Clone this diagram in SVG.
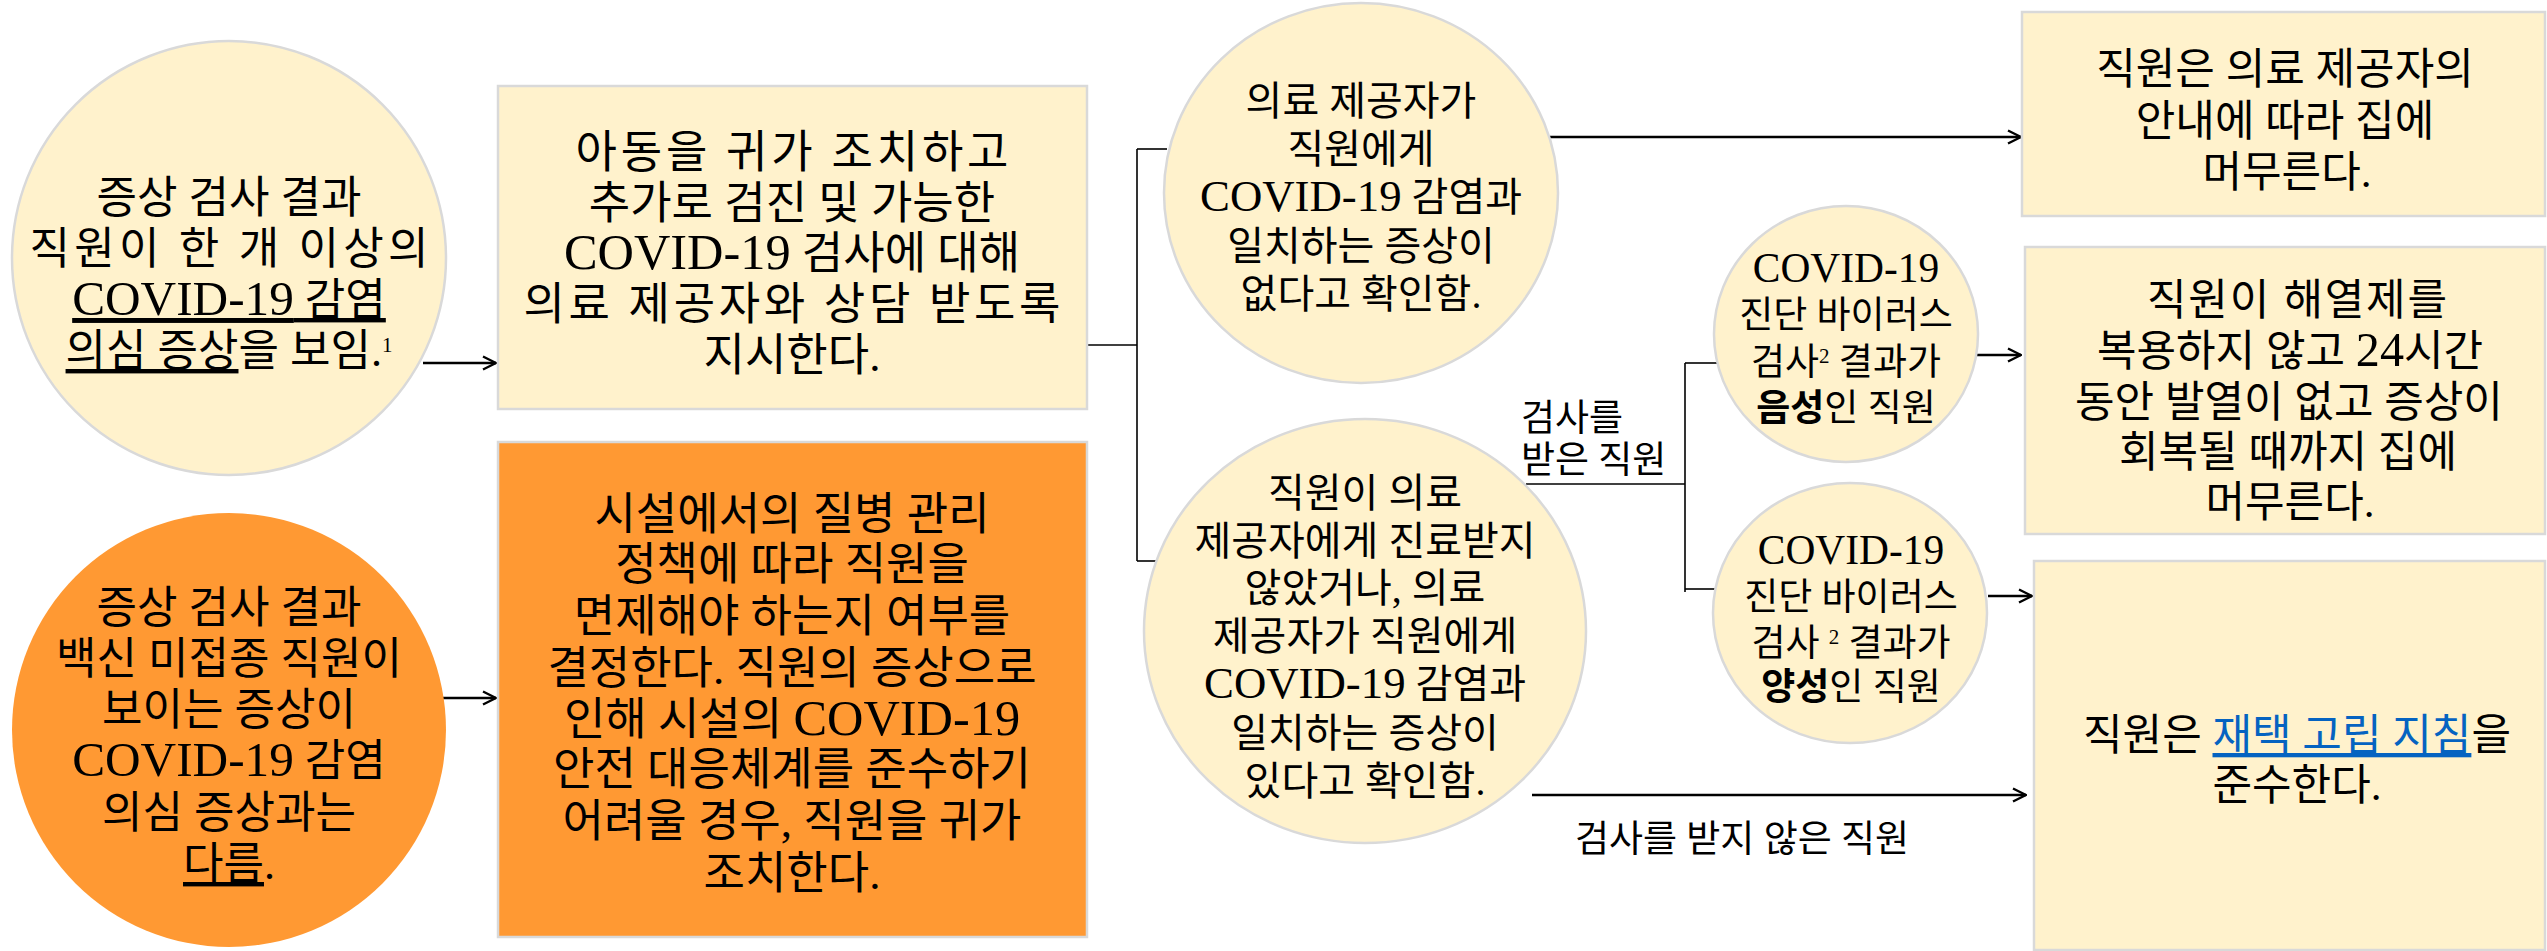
<svg xmlns="http://www.w3.org/2000/svg" width="2547" height="951" viewBox="0 0 2547 951">
<defs>
<style>
.t{font-family:"Liberation Serif","Noto Sans CJK KR",serif;fill:#000;text-anchor:middle}
.l{text-anchor:start}
.s44{font-size:44px}.s45{font-size:45px}.s40{font-size:40px}.s37{font-size:37px}.s43{font-size:43px}
.lat{font-size:112%}
.u{text-decoration:underline}
.b{font-weight:bold}
.sup{font-size:21px}
.link{fill:#0563C1;text-decoration:underline}
.nl{fill:#FFF2CC;stroke:#D9D9D9;stroke-width:2.5}
.no{fill:#FF9933}
.nor{fill:#FF9933;stroke:#D9D9D9;stroke-width:2.5}
.c line{stroke:#000;fill:none}
.thin{stroke-width:1.6}
.thick{stroke-width:2.6}
</style>
<marker id="ah" viewBox="0 0 16 16" refX="15" refY="8" markerWidth="16" markerHeight="16" markerUnits="userSpaceOnUse" orient="auto">
<path d="M2,1.5 L15,8 L2,14.5" fill="none" stroke="#000" stroke-width="2.4"/>
</marker>
</defs>
<rect width="2547" height="951" fill="#FFFFFF"/>

<g id="connectors" class="c">
<line class="thick" x1="423" y1="363" x2="496" y2="363" marker-end="url(#ah)"/>
<line class="thick" x1="443" y1="698" x2="496" y2="698" marker-end="url(#ah)"/>
<line class="thin" x1="1087" y1="345" x2="1137" y2="345"/>
<line class="thin" x1="1137" y1="149" x2="1137" y2="561"/>
<line class="thin" x1="1137" y1="149" x2="1167" y2="149"/>
<line class="thin" x1="1137" y1="561" x2="1157" y2="561"/>
<line class="thick" x1="1550" y1="137" x2="2021" y2="137" marker-end="url(#ah)"/>
<line class="thin" x1="1526" y1="484" x2="1685" y2="484"/>
<line class="thin" x1="1685" y1="363" x2="1685" y2="592"/>
<line class="thin" x1="1685" y1="363" x2="1717" y2="363"/>
<line class="thin" x1="1685" y1="589" x2="1715" y2="589"/>
<line class="thick" x1="1977" y1="355" x2="2021" y2="355" marker-end="url(#ah)"/>
<line class="thick" x1="1988" y1="596" x2="2032" y2="596" marker-end="url(#ah)"/>
<line class="thick" x1="1532" y1="795" x2="2026" y2="795" marker-end="url(#ah)"/>
</g>

<g id="labels">
<text class="t s37 l" x="1521" y="431">검사를</text>
<text class="t s37 l" x="1521" y="473">받은 직원</text>
<text class="t s37" x="1742" y="852">검사를 받지 않은 직원</text>
</g>

<g id="n1">
<circle class="nl" cx="229" cy="258" r="217"/>
<text class="t s44" x="229" y="213">증상 검사 결과</text>
<text class="t s44" x="229" y="264" textLength="399" lengthAdjust="spacing">직원이 한 개 이상의</text>
<text class="t s44" x="229" y="315"><tspan class="u"><tspan class="lat">COVID-19</tspan> 감염</tspan></text>
<text class="t s44" x="229" y="366"><tspan class="u">의심 증상</tspan>을 보임.<tspan class="sup" dy="-14">1</tspan></text>
</g>

<g id="n2">
<circle class="no" cx="229" cy="730" r="217"/>
<text class="t s44" x="229" y="623">증상 검사 결과</text>
<text class="t s44" x="229" y="674">백신 미접종 직원이</text>
<text class="t s44" x="229" y="725">보이는 증상이</text>
<text class="t s44" x="229" y="776"><tspan class="lat">COVID-19</tspan> 감염</text>
<text class="t s44" x="229" y="828">의심 증상과는</text>
<text class="t s44" x="229" y="879"><tspan class="u">다름</tspan>.</text>
</g>

<g id="n3">
<rect class="nl" x="498" y="86" width="589" height="323"/>
<text class="t s45" x="792" y="168" textLength="433" lengthAdjust="spacing">아동을 귀가 조치하고</text>
<text class="t s45" x="792" y="219">추가로 검진 및 가능한</text>
<text class="t s45" x="792" y="269"><tspan class="lat">COVID-19</tspan> 검사에 대해</text>
<text class="t s45" x="792" y="320" textLength="537" lengthAdjust="spacing">의료 제공자와 상담 받도록</text>
<text class="t s45" x="792" y="371">지시한다.</text>
</g>

<g id="n4">
<rect class="nor" x="498" y="442" width="589" height="495"/>
<text class="t s45" x="792" y="530">시설에서의 질병 관리</text>
<text class="t s45" x="792" y="580">정책에 따라 직원을</text>
<text class="t s45" x="792" y="632">면제해야 하는지 여부를</text>
<text class="t s45" x="792" y="684">결정한다. 직원의 증상으로</text>
<text class="t s45" x="792" y="735">인해 시설의 <tspan class="lat">COVID-19</tspan></text>
<text class="t s45" x="792" y="785">안전 대응체계를 준수하기</text>
<text class="t s45" x="792" y="837">어려울 경우, 직원을 귀가</text>
<text class="t s45" x="792" y="889">조치한다.</text>
</g>

<g id="n5">
<ellipse class="nl" cx="1361" cy="193" rx="197" ry="190"/>
<text class="t s40" x="1361" y="115">의료 제공자가</text>
<text class="t s40" x="1361" y="163">직원에게</text>
<text class="t s40" x="1361" y="211"><tspan class="lat">COVID-19</tspan> 감염과</text>
<text class="t s40" x="1361" y="260">일치하는 증상이</text>
<text class="t s40" x="1361" y="308">없다고 확인함.</text>
</g>

<g id="n6">
<ellipse class="nl" cx="1365" cy="631" rx="221" ry="212"/>
<text class="t s40" x="1365" y="507">직원이 의료</text>
<text class="t s40" x="1365" y="555">제공자에게 진료받지</text>
<text class="t s40" x="1365" y="602">않았거나, 의료</text>
<text class="t s40" x="1365" y="650">제공자가 직원에게</text>
<text class="t s40" x="1365" y="698"><tspan class="lat">COVID-19</tspan> 감염과</text>
<text class="t s40" x="1365" y="747">일치하는 증상이</text>
<text class="t s40" x="1365" y="795">있다고 확인함.</text>
</g>

<g id="n7">
<ellipse class="nl" cx="1846" cy="334" rx="132" ry="128"/>
<text class="t s37" x="1846" y="282"><tspan class="lat">COVID-19</tspan></text>
<text class="t s37" x="1846" y="328">진단 바이러스</text>
<text class="t s37" x="1846" y="375">검사<tspan class="sup" dy="-12">2</tspan><tspan dy="12"> 결과가</tspan></text>
<text class="t s37" x="1846" y="421"><tspan class="b">음성</tspan>인 직원</text>
</g>

<g id="n8">
<ellipse class="nl" cx="1850" cy="613" rx="137" ry="130"/>
<text class="t s37" x="1851" y="564"><tspan class="lat">COVID-19</tspan></text>
<text class="t s37" x="1851" y="610">진단 바이러스</text>
<text class="t s37" x="1851" y="656">검사 <tspan class="sup" dy="-12">2</tspan><tspan dy="12"> 결과가</tspan></text>
<text class="t s37" x="1851" y="700"><tspan class="b">양성</tspan>인 직원</text>
</g>

<g id="n9">
<rect class="nl" x="2022" y="12" width="523" height="204"/>
<text class="t s43" x="2285" y="84">직원은 의료 제공자의</text>
<text class="t s43" x="2285" y="136">안내에 따라 집에</text>
<text class="t s43" x="2287" y="187">머무른다.</text>
</g>

<g id="n10">
<rect class="nl" x="2025" y="247" width="520" height="287"/>
<text class="t s43" x="2297" y="315" textLength="300" lengthAdjust="spacing">직원이 해열제를</text>
<text class="t s43" x="2290" y="366">복용하지 않고 <tspan class="lat">24</tspan>시간</text>
<text class="t s43" x="2289" y="417">동안 발열이 없고 증상이</text>
<text class="t s43" x="2288" y="467">회복될 때까지 집에</text>
<text class="t s43" x="2290" y="517">머무른다.</text>
</g>

<g id="n11">
<rect class="nl" x="2034" y="561" width="511" height="389"/>
<text class="t s43" x="2297" y="750">직원은 <tspan class="link">재택 고립 지침</tspan>을</text>
<text class="t s43" x="2297" y="800">준수한다.</text>
</g>
</svg>
